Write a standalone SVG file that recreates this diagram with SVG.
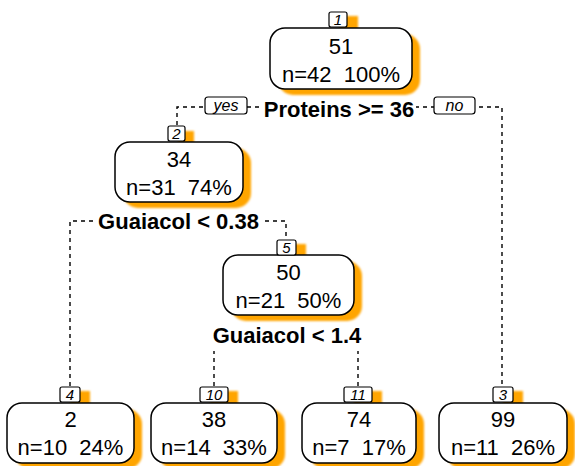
<svg xmlns="http://www.w3.org/2000/svg" width="575" height="466" viewBox="0 0 575 466">
<defs>
<filter id="blur" x="-20%" y="-20%" width="140%" height="140%"><feGaussianBlur stdDeviation="1"/></filter>
</defs>
<style>
.sh{fill:#FFA500;filter:url(#blur)}
.box{fill:#fff;stroke:#000;stroke-width:1.5}
.lbl{fill:#fff;stroke:#000;stroke-width:1.2}
.t{font-family:"Liberation Sans",Arial,sans-serif;font-size:22px;fill:#000;text-anchor:middle;white-space:pre}
.n{font-family:"Liberation Sans",Arial,sans-serif;font-size:15px;font-style:italic;fill:#000;text-anchor:middle}
.s{font-family:"Liberation Sans",Arial,sans-serif;font-size:22px;font-weight:bold;fill:#000;text-anchor:middle}
.c{fill:none;stroke:#000;stroke-width:1.4;stroke-dasharray:4,4}
.bg{fill:#fff}
</style>
<g id="connectors">
<path class="c" d="M177,125 V107 H502 V386"/>
<path class="c" d="M70,386 V221 H286 V239"/>
<path class="c" d="M214,386 V336 H358 V386"/>
<rect class="bg" x="262" y="95" width="154" height="26"/>
<rect class="bg" x="95" y="209" width="166" height="26"/>
<rect class="bg" x="208" y="322" width="158" height="29"/>
<rect class="lbl" x="205" y="97" width="42" height="17" rx="3"/>
<text class="n" x="226" y="111" style="font-size:16px">yes</text>
<rect class="lbl" x="434" y="97" width="41" height="17" rx="3"/>
<text class="n" x="454.5" y="111" style="font-size:16px">no</text>
<text class="s" x="339" y="117">Proteins &gt;= 36</text>
<text class="s" x="178.5" y="229">Guaiacol &lt; 0.38</text>
<text class="s" x="287" y="343">Guaiacol &lt; 1.4</text>
</g>
<g id="node1">
<rect class="sh" x="339" y="16" width="19" height="15"/>
<rect class="sh" x="278" y="34" width="142" height="61" rx="15"/>
<rect class="box" x="270" y="28" width="142" height="61" rx="15"/>
<rect class="lbl" x="329" y="12" width="18" height="15" rx="2"/>
<text class="n" x="338" y="25">1</text>
<text class="t" x="341" y="54">51</text>
<text class="t" x="341" y="82">n=42  100%</text>
</g>
<g id="node2">
<rect class="sh" x="178" y="131" width="16" height="14"/>
<rect class="sh" x="123" y="148" width="128" height="60" rx="15"/>
<rect class="box" x="115" y="142" width="128" height="60" rx="15"/>
<rect class="lbl" x="168" y="126" width="17" height="15" rx="2"/>
<text class="n" x="176.5" y="139">2</text>
<text class="t" x="179" y="167">34</text>
<text class="t" x="179" y="195">n=31  74%</text>
</g>
<g id="node5">
<rect class="sh" x="287" y="244" width="19" height="14"/>
<rect class="sh" x="231" y="261" width="131" height="60" rx="15"/>
<rect class="box" x="223" y="255" width="131" height="60" rx="15"/>
<rect class="lbl" x="277" y="240" width="19" height="15" rx="2"/>
<text class="n" x="286.5" y="253">5</text>
<text class="t" x="288.5" y="280">50</text>
<text class="t" x="288.5" y="308">n=21  50%</text>
</g>
<g id="node4">
<rect class="sh" x="70" y="391" width="20" height="14"/>
<rect class="sh" x="15" y="409" width="127" height="60" rx="15"/>
<rect class="box" x="7" y="403" width="127" height="60" rx="15"/>
<rect class="lbl" x="60" y="387" width="20" height="15" rx="2"/>
<text class="n" x="70" y="400">4</text>
<text class="t" x="70.5" y="427">2</text>
<text class="t" x="70.5" y="455">n=10  24%</text>
</g>
<g id="node10">
<rect class="sh" x="210" y="391" width="28" height="14"/>
<rect class="sh" x="159" y="409" width="126" height="60" rx="15"/>
<rect class="box" x="151" y="403" width="126" height="60" rx="15"/>
<rect class="lbl" x="200" y="387" width="28" height="15" rx="2"/>
<text class="n" x="214" y="400">10</text>
<text class="t" x="214" y="427">38</text>
<text class="t" x="214" y="455">n=14  33%</text>
</g>
<g id="node11">
<rect class="sh" x="354" y="391" width="28" height="14"/>
<rect class="sh" x="310" y="409" width="114" height="60" rx="15"/>
<rect class="box" x="302" y="403" width="114" height="60" rx="15"/>
<rect class="lbl" x="344" y="387" width="28" height="15" rx="2"/>
<text class="n" x="358" y="400">11</text>
<text class="t" x="359" y="427">74</text>
<text class="t" x="359" y="455">n=7  17%</text>
</g>
<g id="node3">
<rect class="sh" x="503" y="391" width="20" height="14"/>
<rect class="sh" x="447" y="409" width="128" height="60" rx="15"/>
<rect class="box" x="439" y="403" width="128" height="60" rx="15"/>
<rect class="lbl" x="493" y="387" width="20" height="15" rx="2"/>
<text class="n" x="503" y="400">3</text>
<text class="t" x="503" y="427">99</text>
<text class="t" x="503" y="455">n=11  26%</text>
</g>
</svg>
